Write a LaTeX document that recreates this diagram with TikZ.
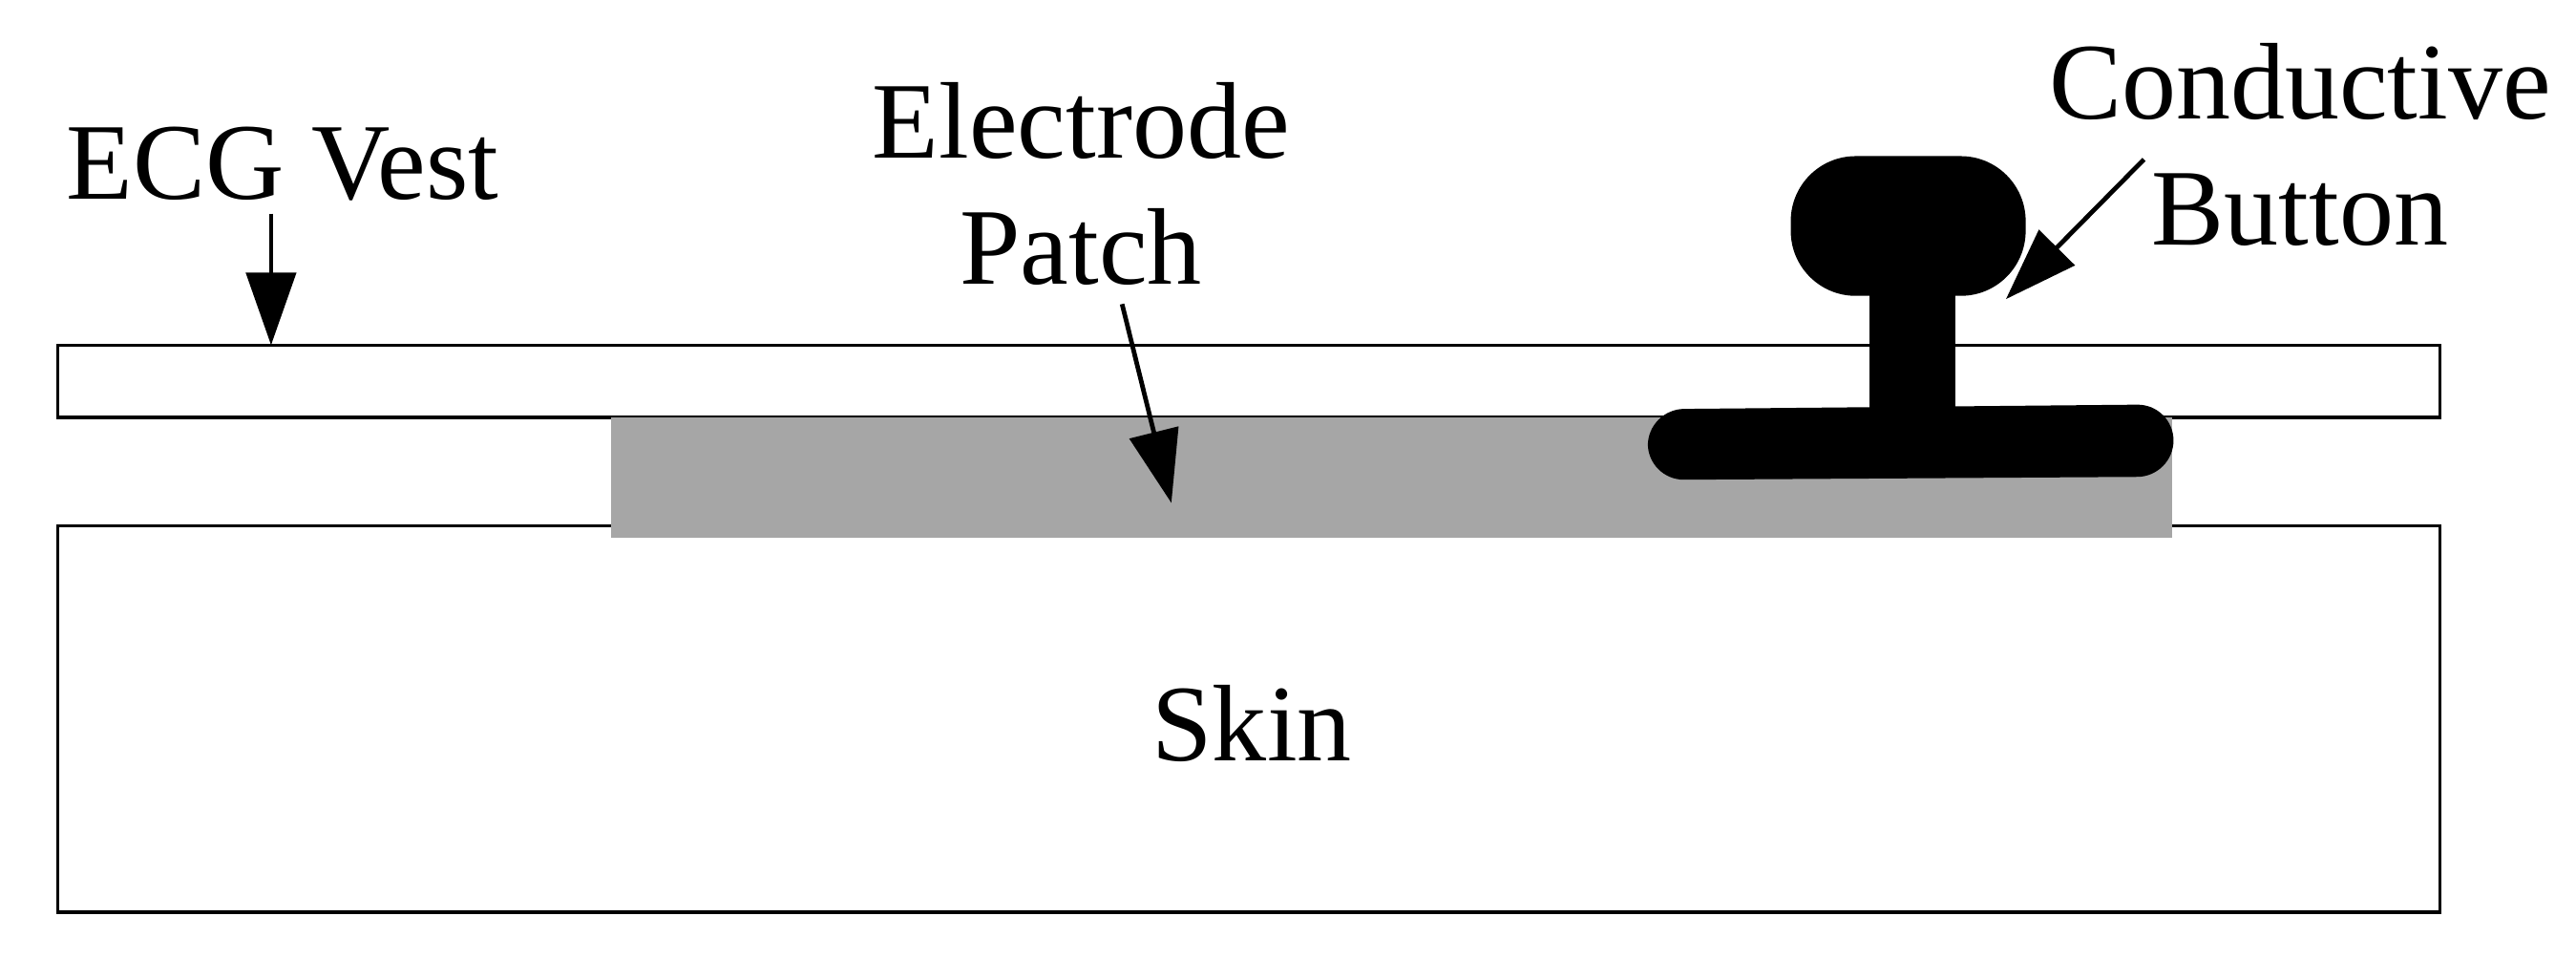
\documentclass[tikz,border=0pt]{standalone}
\usepackage{fontspec}
\setmainfont{Liberation Serif}
\usetikzlibrary{arrows.meta}
\begin{document}
\begin{tikzpicture}[x=0.86pt,y=-0.86pt,
  lbl/.style={font=\fontsize{57}{66}\selectfont,align=center,inner sep=0pt},
  ptr/.style={line width=2.4pt,-{Triangle[length=38pt,width=26pt]}},
  layer/.style={draw,line width=1.6pt,fill=white}]
\useasboundingbox (0,0) rectangle (1568,583);
\draw[layer] (35,210) rectangle (1485,254);
\draw[layer] (35,320) rectangle (1485,555);
\fill[black!35] (372,254) rectangle (1322,327);
% button
\fill (1138,170) rectangle (1190,255);
\fill[rounded corners=34pt] (1090,95) rectangle (1233,180);
\fill[rounded corners=19pt] (1003,249) -- (1323,246) -- (1323,290) -- (1003,292) -- cycle;
\node[lbl] (vest) at (172,100) {ECG Vest};
\node[lbl] (patch) at (658,112) {Electrode\\Patch};
\node[lbl] (btn) at (1400,88) {Conductive\\Button};
\node[lbl] (skin) at (762,440) {Skin};
\coordinate (v1) at (165,130); \coordinate (v2) at (165,210);
\coordinate (p1) at (683,185); \coordinate (p2) at (713,306);
\coordinate (b1) at (1305,97); \coordinate (b2) at (1221,182);
\draw[ptr] (v1) -- (v2);
\draw[ptr] (p1) -- (p2);
\draw[ptr] (b1) -- (b2);
\end{tikzpicture}
\end{document}
